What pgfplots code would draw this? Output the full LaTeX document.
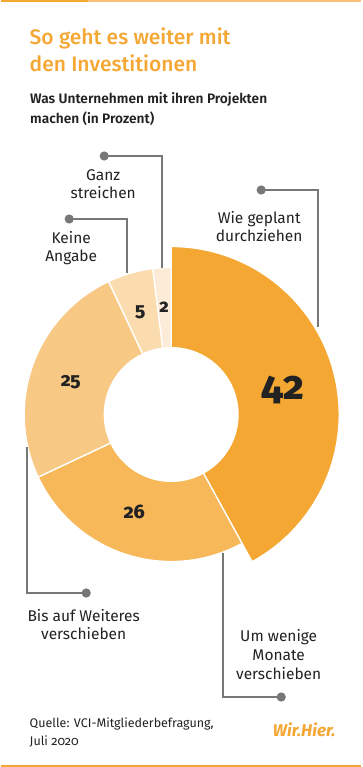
\documentclass[border=0pt]{standalone}
\usepackage{pgfplots}
\pgfplotsset{compat=1.18}
\usepackage{fontspec}
\setmainfont{Fira Sans}
\newfontfamily\titlefont{Fira Sans Medium}
\newfontfamily\subfont{Fira Sans SemiBold}
\newfontfamily\numfont{Fira Sans ExtraBold}[Numbers=OldStyle]
\newfontfamily\srcfont{Fira Sans}[Numbers=OldStyle]
\definecolor{o1}{HTML}{F5A733}
\definecolor{o2}{HTML}{F7B85A}
\definecolor{o3}{HTML}{F8C985}
\definecolor{o4}{HTML}{FADCAE}
\definecolor{o5}{HTML}{FCEBD6}
\definecolor{otop}{HTML}{F9C27A}
\definecolor{lead}{HTML}{777777}
\definecolor{txt}{HTML}{222222}
% shares in percent
\def\vA{42}\def\vB{26}\def\vC{25}\def\vD{5}\def\vE{2}
\pgfmathsetmacro\aA{90}
\pgfmathsetmacro\aB{\aA-\vA*3.6}
\pgfmathsetmacro\aC{\aB-\vB*3.6}
\pgfmathsetmacro\aD{\aC-\vC*3.6}
\pgfmathsetmacro\aE{\aD-\vD*3.6}
\pgfmathsetmacro\aF{\aE-\vE*3.6}
\def\cx{170}\def\cy{414.5}
\newcommand\slice[4]{% color, radius, low angle, high angle
  \addplot[fill=#1, draw=white, line width=1.3pt, domain=#3:#4, samples=90, variable=\t]
    ({\cx+#2*cos(\t)},{\cy-#2*sin(\t)}) -- (axis cs:\cx,\cy) -- cycle;}
\newcommand\lab[3]{\node[anchor=base, text=txt, font=\fontsize{15.5}{18}\selectfont] at (axis cs:#1,#2) {#3};}
\begin{document}
\begin{tikzpicture}
\begin{axis}[width=360pt,height=767pt,scale only axis,
  xmin=0,xmax=360,ymin=0,ymax=767,y dir=reverse,hide axis,clip=false]
\addplot[fill=white,draw=none] coordinates {(0,0) (360,0) (360,767) (0,767)} -- cycle;
% top and bottom rules
\addplot[otop, line width=2.4pt] coordinates {(87,1.2) (360,1.2)};
\addplot[o1, line width=2.4pt] coordinates {(0,1.2) (87,1.2)};
\addplot[o1, line width=2.4pt] coordinates {(0,765.8) (360,765.8)};
% donut
\slice{o1}{168}{\aB}{\aA}
\slice{o2}{147}{\aC}{\aB}
\slice{o3}{147}{\aD}{\aC}
\slice{o4}{147}{\aE}{\aD}
\slice{o5}{147}{\aF}{\aE}
\addplot[fill=white, draw=none, domain=0:360, samples=120, variable=\t]
  ({\cx+67.5*cos(\t)},{\cy-67.5*sin(\t)}) -- cycle;
% leader lines
\addplot[lead, line width=1.5pt, mark=*, mark size=3.8pt, mark indices={1}, mark options={fill=lead,draw=lead}]
  coordinates {(260,190) (317,190) (317,327)};
\addplot[lead, line width=1.5pt, mark=*, mark size=3.8pt, mark indices={1}, mark options={fill=lead,draw=lead}]
  coordinates {(103,156) (161,156) (161,268)};
\addplot[lead, line width=1.5pt, mark=*, mark size=3.8pt, mark indices={1}, mark options={fill=lead,draw=lead}]
  coordinates {(68,219) (126,219) (126,273)};
\addplot[lead, line width=1.5pt, mark=*, mark size=3.8pt, mark indices={1}, mark options={fill=lead,draw=lead}]
  coordinates {(85,593) (26,593) (26,447)};
\addplot[lead, line width=1.5pt, mark=*, mark size=3.8pt, mark indices={1}, mark options={fill=lead,draw=lead}]
  coordinates {(280,697) (222,697) (222,553)};
% values
\node[text=txt, font=\numfont\fontsize{40}{40}\selectfont] at (axis cs:282,390) {\vA};
\node[text=txt, font=\numfont\fontsize{19.5}{20}\selectfont] at (axis cs:133,512) {\vB};
\node[text=txt, font=\numfont\fontsize{19}{20}\selectfont] at (axis cs:69.5,382.5) {\vC};
\node[text=txt, font=\numfont\fontsize{19}{20}\selectfont] at (axis cs:139,312) {\vD};
\node[text=txt, font=\numfont\fontsize{18}{20}\selectfont] at (axis cs:163,307) {\vE};
% titles
\node[anchor=base west, text=o1, font=\titlefont\fontsize{21}{25}\selectfont] at (axis cs:25,45) {So geht es weiter mit};
\node[anchor=base west, text=o1, font=\titlefont\fontsize{21}{25}\selectfont] at (axis cs:25,72) {den Investitionen};
\node[anchor=base west, text=txt, font=\subfont\fontsize{13.7}{16}\selectfont] at (axis cs:25.5,104) {Was Unternehmen mit ihren Projekten};
\node[anchor=base west, text=txt, font=\subfont\fontsize{13.7}{16}\selectfont] at (axis cs:25.5,123.5) {machen (in Prozent)};
% labels
\lab{258}{223}{Wie geplant}
\lab{258}{241}{durchziehen}
\lab{102}{181}{Ganz}
\lab{102}{199}{streichen}
\lab{70}{243}{Keine}
\lab{70}{261}{Angabe}
\lab{82.5}{621}{Bis auf Weiteres}
\lab{82.5}{639}{verschieben}
\lab{277.5}{641}{Um wenige}
\lab{277.5}{660}{Monate}
\lab{277.5}{679}{verschieben}
% source and logo
\node[anchor=base west, text=txt, font=\srcfont\fontsize{12.5}{15}\selectfont] at (axis cs:25,727) {Quelle: VCI-Mitgliederbefragung,};
\node[anchor=base west, text=txt, font=\srcfont\fontsize{12.5}{15}\selectfont] at (axis cs:25,745) {Juli 2020};
\node[text=o1, font=\bfseries\itshape\fontsize{17}{20}\selectfont] at (axis cs:303,730) {Wir.Hier.};
\end{axis}
\end{tikzpicture}
\end{document}
